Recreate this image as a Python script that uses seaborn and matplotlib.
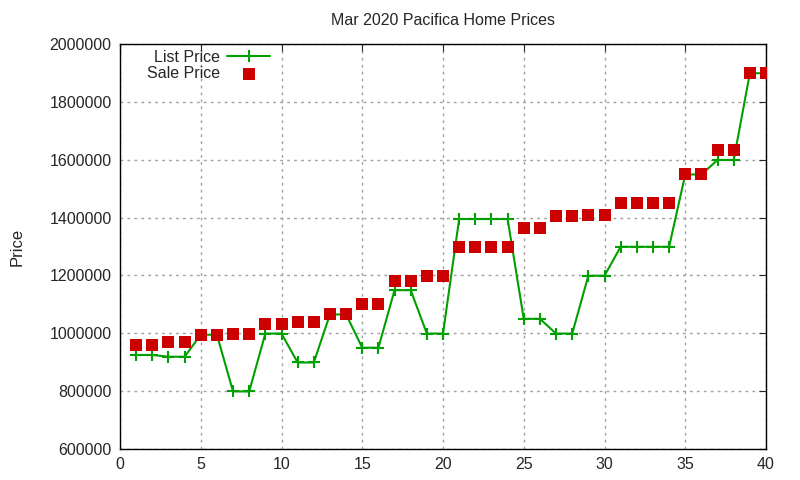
import numpy as np
import pandas as pd
import matplotlib
matplotlib.use("Agg")
import matplotlib.pyplot as plt
import seaborn as sns

# 房屋序号
house = list(range(1, 41))

# 挂牌价
list_price = [925000, 925000, 919000, 919000, 995000, 995000, 799000, 799000,
              999000, 999000, 899000, 899000, 1065000, 1065000, 950000, 950000,
              1149000, 1149000, 999000, 999000, 1395000, 1395000, 1395000, 1395000,
              1050000, 1050000, 999000, 999000, 1199000, 1199000, 1299000, 1299000,
              1299000, 1299000, 1549000, 1549000, 1599000, 1599000, 1899000, 1899000]

# 成交价
sale_price = [961000, 961000, 970000, 970000, 995000, 995000, 999000, 999000,
              1032000, 1032000, 1040000, 1040000, 1065000, 1065000, 1100000, 1100000,
              1179000, 1179000, 1199000, 1199000, 1299000, 1299000, 1299000, 1299000,
              1365000, 1365000, 1407000, 1407000, 1410000, 1410000, 1449000, 1449000,
              1449000, 1449000, 1549000, 1549000, 1635000, 1635000, 1899000, 1899000]

x_ticks = [0, 5, 10, 15, 20, 25, 30, 35, 40]
y_ticks = [600000, 800000, 1000000, 1200000, 1400000, 1600000, 1800000, 2000000]


def draw():
    df = pd.DataFrame({"house": house, "list": list_price, "sale": sale_price})

    sns.set_style("white")
    plt.rcParams["font.family"] = ["Liberation Sans", "DejaVu Sans"]

    fig = plt.figure(figsize=(8, 4.8), dpi=100)
    ax = fig.add_axes([0.15, 0.0646, 0.8075, 0.84375])

    sns.lineplot(data=df, x="house", y="list", ax=ax, color="#00a000", lw=1.5,
                 marker="+", markersize=8, markeredgewidth=1.5,
                 markeredgecolor="#00a000", label="List Price")
    sns.scatterplot(data=df, x="house", y="sale", ax=ax, color="#cc0000",
                    marker="s", s=85, linewidth=0, label="Sale Price", zorder=3)

    ax.set_xlim(0, 40)
    ax.set_ylim(600000, 2000000)
    ax.set_xticks(x_ticks)
    ax.set_yticks(y_ticks)
    ax.set_xticklabels([str(v) for v in x_ticks])
    ax.set_yticklabels([str(v) for v in y_ticks])
    ax.tick_params(direction="in", top=True, right=True, labelsize=11.5, length=5, pad=6)
    ax.grid(True, color="#a0a0a0", linestyle=(0, (2, 3)), lw=1)
    for s in ax.spines.values():
        s.set_color("black")
        s.set_linewidth(1)

    ax.set_xlabel("")
    ax.set_ylabel("Price", fontsize=12, labelpad=18)
    ax.set_title("Mar 2020 Pacifica Home Prices", fontsize=11.5, pad=14)

    ax.legend(loc="upper left", bbox_to_anchor=(0.024, 1.014), frameon=False,
              markerfirst=False, fontsize=11.5, handlelength=2.7,
              labelspacing=0.1, borderaxespad=0.3, handletextpad=0.45)

    fig.savefig("out.png", dpi=100)


if __name__ == "__main__":
    draw()
